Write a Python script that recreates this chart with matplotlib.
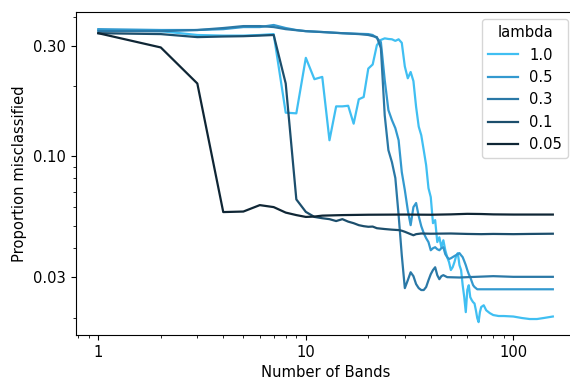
import numpy as np
import matplotlib
matplotlib.use("Agg")
import matplotlib.pyplot as plt
from matplotlib.ticker import FixedLocator, FuncFormatter, NullFormatter

plt.rcParams["font.size"] = 10.6

# misclassification rate vs number of bands, one curve per lambda
x_10 = [1, 2, 3, 4, 5, 6, 7, 8, 9, 10, 11, 12, 13, 14, 15, 16, 17, 18, 19, 20,
        21, 22, 23, 24, 25, 26, 27, 28, 29, 30, 31, 32, 33, 34, 35, 36, 37, 38, 39, 40,
        41, 42, 43, 44, 45, 46, 47, 48, 49, 50, 51, 52, 53, 54, 55, 56, 57, 58, 59, 60,
        61, 62, 63, 64, 65, 66, 67, 68, 69, 70, 72, 74, 77, 80, 85, 90, 100, 110, 120,
        130, 140, 155]
y_10 = [0.351, 0.347, 0.334, 0.332, 0.332, 0.334, 0.337, 0.154, 0.153, 0.266,
        0.215, 0.220, 0.117, 0.164, 0.164, 0.165, 0.138, 0.176, 0.180, 0.239,
        0.249, 0.302, 0.318, 0.323, 0.321, 0.320, 0.315, 0.320, 0.309, 0.244,
        0.217, 0.231, 0.211, 0.163, 0.134, 0.123, 0.106, 0.0913, 0.0726, 0.0664,
        0.0512, 0.0528, 0.0424, 0.0445, 0.0403, 0.0432, 0.0391, 0.0365, 0.0347, 0.0321,
        0.0330, 0.0347, 0.0369, 0.0380, 0.0337, 0.0321, 0.0276, 0.0245, 0.0211, 0.0263,
        0.0276, 0.0245, 0.0238, 0.0233, 0.0230, 0.0215, 0.0199, 0.0191, 0.0211, 0.0222,
        0.0226, 0.0215, 0.0209, 0.0205, 0.0203, 0.0203, 0.0202, 0.0199, 0.0197,
        0.0197, 0.0199, 0.0202]

x_05 = [1, 2, 3, 4, 5, 6, 7, 8, 9, 10, 12, 15, 18, 20, 21, 22, 23, 24, 25, 26,
        27, 28, 29, 30, 31, 32, 33, 34, 35, 36, 37, 38, 39, 40, 41, 42, 43, 44, 45, 46,
        47, 48, 49, 50, 52, 54, 55, 56, 57, 58, 59, 60, 61, 62, 63, 64, 65, 66, 67, 70,
        80, 100, 120, 155]
y_05 = [0.354, 0.351, 0.351, 0.354, 0.3615, 0.3615, 0.369, 0.358, 0.351, 0.347,
        0.344, 0.340, 0.338, 0.337, 0.334, 0.324, 0.311, 0.213, 0.158, 0.143,
        0.132, 0.117, 0.0852, 0.0712, 0.0583, 0.0502, 0.0601, 0.0626, 0.0549, 0.0497,
        0.0464, 0.0441, 0.0424, 0.0391, 0.0399, 0.0403, 0.0395, 0.0391, 0.0399, 0.0403,
        0.0376, 0.0365, 0.0358, 0.0361, 0.0369, 0.0376, 0.0380, 0.0372, 0.0365, 0.0351,
        0.0337, 0.0321, 0.0308, 0.0299, 0.0287, 0.0276, 0.0271, 0.0268, 0.0265, 0.0265,
        0.0265, 0.0265, 0.0265, 0.0265]

x_03 = [1, 2, 3, 4, 5, 6, 7, 8, 10, 12, 15, 18, 20, 22, 23, 24, 25, 26, 27, 28,
        29, 30, 31, 32, 33, 34, 35, 36, 37, 38, 39, 40, 41, 42, 43, 44, 45, 46, 48, 55,
        60, 80, 100, 155]
y_03 = [0.347, 0.347, 0.351, 0.358, 0.365, 0.365, 0.3615, 0.354, 0.347, 0.344,
        0.340, 0.337, 0.334, 0.327, 0.293, 0.150, 0.106, 0.094, 0.0803, 0.0555,
        0.0372, 0.0268, 0.0290, 0.0314, 0.0302, 0.0279, 0.0268, 0.0263, 0.0263, 0.0271,
        0.0290, 0.0308, 0.0321, 0.0330, 0.0305, 0.0293, 0.0302, 0.0305, 0.0299, 0.0298,
        0.0299, 0.0302, 0.0300, 0.0300]

x_01 = [1, 2, 3, 4, 5, 6, 7, 8, 9, 10, 11, 12, 13, 14, 15, 16, 17, 18, 19, 20,
        21, 22, 24, 26, 28, 29, 30, 32, 33, 34, 36, 40, 50, 60, 70, 80, 100, 120, 155]
y_01 = [0.340, 0.337, 0.327, 0.329, 0.330, 0.332, 0.334, 0.206, 0.0649, 0.0573,
        0.0545, 0.0538, 0.0533, 0.0523, 0.0533, 0.0520, 0.0512, 0.0502, 0.0497, 0.0494,
        0.0495, 0.0487, 0.0483, 0.0480, 0.0478, 0.0475, 0.0470, 0.0459, 0.0454, 0.0459,
        0.0462, 0.0461, 0.0462, 0.0460, 0.0459, 0.0460, 0.0459, 0.0460, 0.0461]

x_005 = [1, 2, 3, 4, 5, 6, 7, 8, 9, 10, 11, 12, 15, 20, 30, 40, 50, 60, 70, 80, 100, 155]
y_005 = [0.340, 0.295, 0.206, 0.0572, 0.0575, 0.0613, 0.0601, 0.0569, 0.0555, 0.0545,
         0.0547, 0.0552, 0.0555, 0.0557, 0.0558, 0.0557, 0.0559, 0.0562, 0.0561, 0.0559,
         0.0558, 0.0558]

lambdas = ["1.0", "0.5", "0.3", "0.1", "0.05"]
colors = ["#40bff2", "#3399cf", "#2a78a6", "#1c4e6c", "#0f2635"]
series = [(x_10, y_10), (x_05, y_05), (x_03, y_03), (x_01, y_01), (x_005, y_005)]

fig, ax = plt.subplots(figsize=(5.7, 3.81), dpi=100)
# right edge of the axes sits just past the canvas, as in the cropped export
fig.subplots_adjust(left=0.1326, right=1.0097, top=0.9685, bottom=0.1207)

for lam, c, (xs, ys) in zip(lambdas, colors, series):
    ax.plot(xs, ys, color=c, linewidth=1.6, label=lam)

ax.set_xscale("log")
ax.set_yscale("log")
ax.set_xlim(0.777, 199.4)
ax.set_ylim(0.0168, 0.42)

ax.xaxis.set_major_locator(FixedLocator([1, 10, 100]))
ax.xaxis.set_major_formatter(FuncFormatter(lambda v, p: f"{v:g}"))
ax.xaxis.set_minor_formatter(NullFormatter())
ax.yaxis.set_major_locator(FixedLocator([0.03, 0.1, 0.3]))
ax.yaxis.set_major_formatter(FuncFormatter(lambda v, p: f"{v:.2f}"))
ax.yaxis.set_minor_formatter(NullFormatter())

ax.set_xlabel("Number of Bands")
ax.set_ylabel("Proportion misclassified")
ax.legend(title="lambda", loc="upper right")

fig.savefig("out.png", dpi=100)
